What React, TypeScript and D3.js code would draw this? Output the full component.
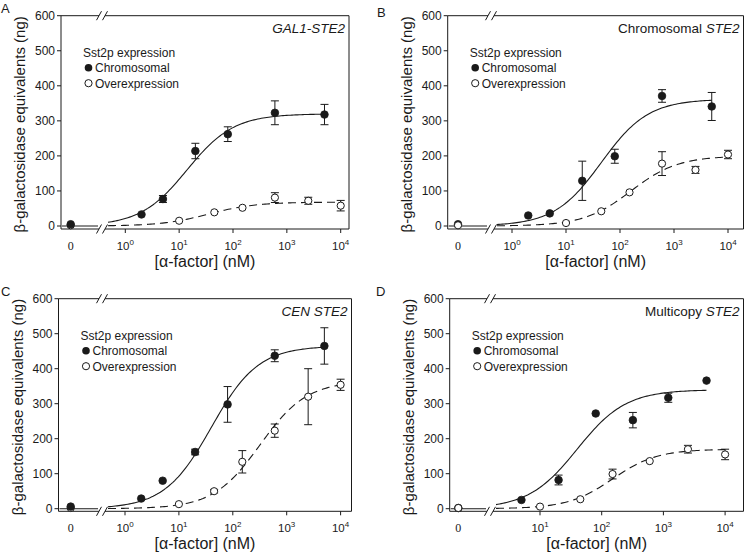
import React from 'react';
import * as d3 from 'd3';

// ---------- data ----------
const chromoDoseABC = [0, 2, 5, 20, 80, 600, 5000];
const chromoDoseD = [0, 5, 20, 80, 320, 1200, 5000];
const overDose = [0, 10, 45, 150, 600, 2500, 10000];

const chromoA = [5, 33, 77, 214, 262, 323, 318];
const chromoErrA = [0, 0, 10, 22, 21, 34, 29];
const overA = [2, 15, 39, 52, 81, 72, 58];
const overErrA = [0, 0, 0, 0, 14, 10, 15];

const chromoB = [5, 30, 36, 129, 199, 371, 341];
const chromoErrB = [0, 0, 0, 56, 20, 18, 40];
const overB = [2, 8.5, 42, 96, 178, 160, 204];
const overErrB = [0, 0, 0, 0, 34, 10, 12];

const chromoC = [6, 29, 80, 162, 298, 437, 465];
const chromoErrC = [0, 0, 0, 8, 51, 17, 52];
const overC = [2, 13, 50, 134, 223, 320, 354];
const overErrC = [0, 0, 5, 32, 19, 80, 16];

const chromoD = [2, 25, 82, 272, 253, 317, 366];
const chromoErrD = [0, 0, 14, 0, 22, 13, 0];
const overD = [2, 6, 27, 99, 136, 170, 155];
const overErrD = [0, 0, 0, 14, 0, 11, 15];

// fitted Hill curve parameters
const fitTopChromo = [320, 362, 465, 340];
const fitEC50Chromo = [14, 45, 40, 40];
const fitHillChromo = [1, 1, 1, 1.1];
const fitTopOver = [68, 200, 365, 170];
const fitEC50Over = [35, 160, 320, 150];
const fitHillOver = [1, 1, 1, 1.2];

const panelLetters = ['A', 'B', 'C', 'D'];
const titlePlain = ['', 'Chromosomal ', '', 'Multicopy '];
const titleItalic = ['GAL1-STE2', 'STE2', 'CEN STE2', 'STE2'];
const yTicks = [0, 100, 200, 300, 400, 500, 600];
const xTickExpsABC = [0, 1, 2, 3, 4];
const xTickExpsD = [1, 2, 3, 4];
const legendTitle = 'Sst2p expression';
const legendNames = ['Chromosomal', 'Overexpression'];
const yLabel = 'β-galactosidase equivalents (ng)';
const xLabel = '[α-factor] (nM)';

// ---------- layout ----------
type Layout = {
  left: number; right: number; top: number; bottom: number;
  y0: number; y600: number; zeroX: number; breakX: number; logStartX: number;
  refPx: number; refExp: number; decade: number; letterX: number; letterY: number;
};
const layouts: Layout[] = [
  { left: 61, right: 349, top: 15.7, bottom: 229, y0: 226, y600: 15.7, zeroX: 70.7, breakX: 102, logStartX: 108, refPx: 125.3, refExp: 0, decade: 53.85, letterX: 1, letterY: 13 },
  { left: 447.7, right: 743.5, top: 15.7, bottom: 229, y0: 226, y600: 15.7, zeroX: 458, breakX: 491, logStartX: 497, refPx: 512, refExp: 0, decade: 54, letterX: 377, letterY: 17 },
  { left: 58.5, right: 351.5, top: 298.7, bottom: 511.3, y0: 508.7, y600: 298.7, zeroX: 70.7, breakX: 102, logStartX: 108, refPx: 125, refExp: 0, decade: 53.9, letterX: 1, letterY: 296 },
  { left: 449.7, right: 743.5, top: 298.7, bottom: 511.3, y0: 508.7, y600: 298.7, zeroX: 458.3, breakX: 490, logStartX: 496, refPx: 540, refExp: 1, decade: 61.7, letterX: 376, letterY: 296 },
];

const panelsData = [
  { cd: chromoDoseABC, c: chromoA, ce: chromoErrA, o: overA, oe: overErrA, overOnTop: false, xt: xTickExpsABC },
  { cd: chromoDoseABC, c: chromoB, ce: chromoErrB, o: overB, oe: overErrB, overOnTop: true, xt: xTickExpsABC },
  { cd: chromoDoseABC, c: chromoC, ce: chromoErrC, o: overC, oe: overErrC, overOnTop: false, xt: xTickExpsABC },
  { cd: chromoDoseD, c: chromoD, ce: chromoErrD, o: overD, oe: overErrD, overOnTop: true, xt: xTickExpsD },
];

const SANS = '"Liberation Sans", Arial, sans-serif';
const INK = '#1a1a1a';

function hill(x: number, top: number, ec: number, n: number) {
  const r = Math.pow(x / ec, n);
  return (top * r) / (1 + r);
}

function Panel({ i }: { i: number }) {
  const L = layouts[i];
  const P = panelsData[i];
  const y = d3.scaleLinear().domain([0, 600]).range([L.y0, L.y600]);
  const loExp = L.refExp + (L.logStartX - L.refPx) / L.decade;
  const hiExp = L.refExp + (L.right - L.refPx) / L.decade;
  const xl = d3.scaleLog().domain([Math.pow(10, loExp), Math.pow(10, hiExp)]).range([L.logStartX, L.right]);
  const xpos = (d: number) => (d === 0 ? L.zeroX : xl(d));

  const line = d3.line<[number, number]>().x((d) => xl(d[0])).y((d) => y(d[1]));
  const makeCurve = (top: number, ec: number, n: number, endDose: number) => {
    const lo = loExp;
    const hi = Math.log10(endDose);
    const pts: [number, number][] = d3.range(0, 121).map((k) => {
      const e = lo + ((hi - lo) * k) / 120;
      const xv = Math.pow(10, e);
      return [xv, hill(xv, top, ec, n)];
    });
    return line(pts) || '';
  };
  const chromoCurve = makeCurve(fitTopChromo[i], fitEC50Chromo[i], fitHillChromo[i], P.cd[P.cd.length - 1]);
  const overCurve = makeCurve(fitTopOver[i], fitEC50Over[i], fitHillOver[i], overDose[overDose.length - 1]);

  const bx = L.breakX;
  const slash = (cx: number, cy: number, key: string) => (
    <line key={key} x1={cx - 2.5} y1={cy + 4.5} x2={cx + 2.5} y2={cy - 4.5} stroke={INK} strokeWidth={1} />
  );

  const errBars = (doses: number[], vals: number[], errs: number[], key: string) =>
    doses.map((d, k) =>
      errs[k] > 0 ? (
        <g key={key + k} stroke={INK} strokeWidth={1}>
          <line x1={xpos(d)} x2={xpos(d)} y1={y(vals[k] - errs[k])} y2={y(vals[k] + errs[k])} />
          <line x1={xpos(d) - 4} x2={xpos(d) + 4} y1={y(vals[k] - errs[k])} y2={y(vals[k] - errs[k])} />
          <line x1={xpos(d) - 4} x2={xpos(d) + 4} y1={y(vals[k] + errs[k])} y2={y(vals[k] + errs[k])} />
        </g>
      ) : null
    );

  const chromoMarks = (
    <g key="cm">
      {P.cd.map((d, k) => (
        <circle key={k} cx={xpos(d)} cy={y(P.c[k])} r={3.8} fill={INK} stroke={INK} strokeWidth={0.8} />
      ))}
    </g>
  );
  const overMarks = (
    <g key="om">
      {overDose.map((d, k) => (
        <circle key={k} cx={xpos(d)} cy={y(P.o[k])} r={3.6} fill="#fff" stroke={INK} strokeWidth={1} />
      ))}
    </g>
  );

  const cx = (L.left + L.right) / 2;
  const cy = (L.top + L.bottom) / 2 + 2;
  const lx = L.left + 22;

  return (
    <g>
      <text x={L.letterX} y={L.letterY} fontFamily={SANS} fontSize={13} fill={INK}>{panelLetters[i]}</text>
      {/* frame */}
      <g stroke={INK} strokeWidth={1} fill="none">
        <line x1={L.left} x2={L.left} y1={L.top} y2={L.bottom} />
        <line x1={L.right} x2={L.right} y1={L.top} y2={L.bottom} />
        <line x1={L.left} x2={bx - 3} y1={L.top} y2={L.top} />
        <line x1={bx + 3} x2={L.right} y1={L.top} y2={L.top} />
        <line x1={L.left} x2={bx - 3} y1={L.bottom} y2={L.bottom} />
        <line x1={bx + 3} x2={L.right} y1={L.bottom} y2={L.bottom} />
      </g>
      {slash(bx - 3, L.bottom, 'b1')}
      {slash(bx + 3, L.bottom, 'b2')}
      {slash(bx - 3, L.top, 't1')}
      {slash(bx + 3, L.top, 't2')}
      {/* y ticks */}
      {yTicks.map((t) => (
        <g key={'yt' + t}>
          <line x1={L.left - 4} x2={L.left} y1={y(t)} y2={y(t)} stroke={INK} strokeWidth={1} />
          <text x={L.left - 6} y={y(t) + 4.2} textAnchor="end" fontFamily={SANS} fontSize={12} fill={INK}>{t}</text>
        </g>
      ))}
      {/* x ticks */}
      <text x={L.zeroX} y={L.bottom + 21} textAnchor="middle" fontFamily='"Liberation Serif", serif' fontSize={12} fill={INK}>0</text>
      {P.xt.map((e) => {
        const px = xl(Math.pow(10, e));
        return (
          <g key={'xt' + e}>
            <line x1={px} x2={px} y1={L.bottom} y2={L.bottom + 4} stroke={INK} strokeWidth={1} />
            <text x={px} y={L.bottom + 21} textAnchor="middle" fontFamily={SANS} fontSize={11.5} fill={INK}>
              10<tspan dy={-5} fontSize={8}>{e}</tspan>
            </text>
          </g>
        );
      })}
      {/* axis labels */}
      <text x={cx} y={L.bottom + 37.5} textAnchor="middle" fontFamily={SANS} fontSize={16} fill={INK}>{xLabel}</text>
      <text transform={`translate(${L.left - 36},${cy}) rotate(-90)`} textAnchor="middle" fontFamily={SANS} fontSize={15} fill={INK}>{yLabel}</text>
      {/* title */}
      <text x={L.right - 4} y={L.top + 17} textAnchor="end" fontFamily={SANS} fontSize={13.5} fill={INK}>
        {titlePlain[i]}
        <tspan fontStyle="italic">{titleItalic[i]}</tspan>
      </text>
      {/* legend */}
      <text x={lx} y={L.top + 41} fontFamily={SANS} fontSize={12} fill={INK}>{legendTitle}</text>
      <circle cx={lx + 5.5} cy={L.top + 52} r={3.8} fill={INK} />
      <text x={lx + 12} y={L.top + 56.3} fontFamily={SANS} fontSize={12} fill={INK}>{legendNames[0]}</text>
      <circle cx={lx + 5.5} cy={L.top + 67.5} r={3.6} fill="#fff" stroke={INK} strokeWidth={1} />
      <text x={lx + 12} y={L.top + 71.8} fontFamily={SANS} fontSize={12} fill={INK}>{legendNames[1]}</text>
      {/* zero segment line */}
      <line x1={L.left + 1} x2={bx - 4} y1={y(0)} y2={y(0)} stroke={INK} strokeWidth={1.1} />
      {/* curves */}
      <path d={chromoCurve} fill="none" stroke={INK} strokeWidth={1.1} />
      <path d={overCurve} fill="none" stroke={INK} strokeWidth={1.1} strokeDasharray="8,5" />
      {errBars(P.cd, P.c, P.ce, 'ce')}
      {errBars(overDose, P.o, P.oe, 'oe')}
      {P.overOnTop ? [chromoMarks, overMarks] : [overMarks, chromoMarks]}
    </g>
  );
}

export default function App() {
  return (
    <svg width={745} height={557} style={{ display: 'block', position: 'absolute', left: 0, top: 0, background: '#fff' }}>
      <rect width={745} height={557} fill="#fff" />
      {[0, 1, 2, 3].map((i) => (
        <Panel key={i} i={i} />
      ))}
    </svg>
  );
}
